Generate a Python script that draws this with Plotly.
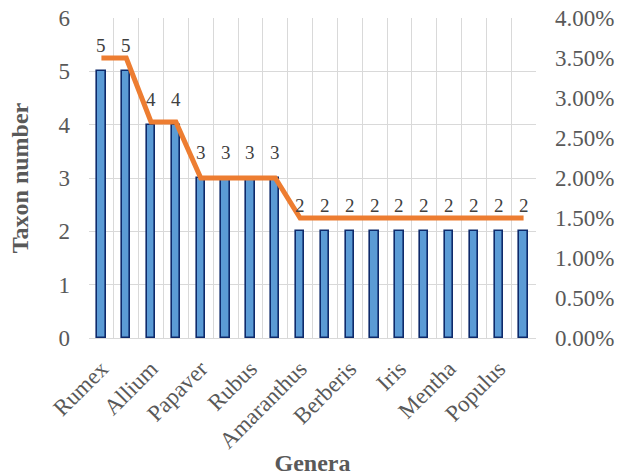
import plotly.graph_objects as go

# Taxon counts per genus, ordered from most to least species-rich
taxon_counts = [5, 5, 4, 4, 3, 3, 3, 3, 2, 2, 2, 2, 2, 2, 2, 2, 2, 2]
# Share of the total flora for each genus
taxon_share = [0.035, 0.035, 0.027, 0.027, 0.020, 0.020, 0.020, 0.020,
               0.015, 0.015, 0.015, 0.015, 0.015, 0.015, 0.015, 0.015, 0.015, 0.015]
# Genus names printed on the category axis (every second genus)
label_positions = [0, 2, 4, 6, 8, 10, 12, 14, 16]
label_names = ["Rumex", "Allium", "Papaver", "Rubus", "Amaranthus",
               "Berberis", "Iris", "Mentha", "Populus"]

positions = list(range(len(taxon_counts)))

FONT = "Times New Roman, Liberation Serif, serif"
GRID = "#d9d9d9"
TICK_COLOR = "#595959"
TITLE_COLOR = "#595959"

fig = go.Figure()

fig.add_trace(go.Bar(
    x=positions, y=taxon_counts,
    width=0.34,
    marker=dict(color="#5B9BD5", line=dict(color="#0E2A6B", width=1.6)),
    showlegend=False, hoverinfo="skip",
))

fig.add_trace(go.Scatter(
    x=positions, y=taxon_share, yaxis="y2",
    mode="lines",
    line=dict(color="#ED7D31", width=5),
    showlegend=False, hoverinfo="skip",
))

# value labels above each bar
for xp, v in zip(positions, taxon_counts):
    fig.add_annotation(
        x=xp, y=v, xref="x", yref="y", text=str(v), showarrow=False,
        yanchor="bottom", yshift=13,
        font=dict(family=FONT, size=19, color="#404040"),
    )

fig.update_layout(
    width=627, height=476,
    margin=dict(l=89, r=91, t=18, b=138, autoexpand=False),
    plot_bgcolor="white", paper_bgcolor="white",
    font=dict(family=FONT, color=TICK_COLOR),
    bargap=0,
    xaxis=dict(
        range=[-0.5, 17.5], automargin=False,
        tickmode="array", tickvals=label_positions, ticktext=label_names,
        tickangle=-45, tickfont=dict(family=FONT, size=23, color=TICK_COLOR),
        ticklabelstandoff=7,
        showgrid=False, zeroline=False,
        showline=True, linecolor=GRID, linewidth=1.3,
        ticks="",
        minor=dict(tickmode="linear", tick0=-0.5, dtick=1,
                   showgrid=True, gridcolor=GRID, gridwidth=1.3, ticks=""),
        title=dict(text="<b>Genera</b>", font=dict(family=FONT, size=24, color=TITLE_COLOR),
                   standoff=4),
    ),
    yaxis=dict(
        range=[0, 6], tickmode="linear", tick0=0, dtick=1, automargin=False,
        showgrid=True, gridcolor=GRID, gridwidth=1.3, zeroline=False,
        tickfont=dict(family=FONT, size=23, color=TICK_COLOR),
        ticklabelstandoff=18,
        title=dict(text="<b>Taxon number</b>", font=dict(family=FONT, size=24, color=TITLE_COLOR),
                   standoff=23),
    ),
    yaxis2=dict(
        range=[0, 0.04], overlaying="y", side="right", automargin=False,
        tickmode="linear", tick0=0, dtick=0.005, tickformat=".2%",
        showgrid=False, zeroline=False,
        tickfont=dict(family=FONT, size=23, color=TICK_COLOR),
        ticklabelstandoff=18,
    ),
)

fig.write_html("out.html")
